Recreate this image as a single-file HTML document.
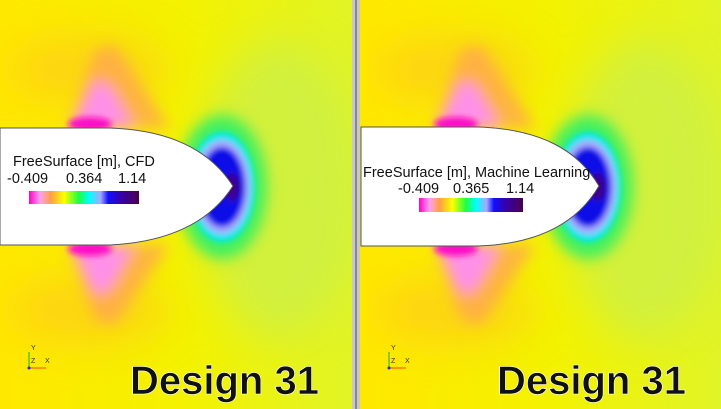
<!DOCTYPE html>
<html><head><meta charset="utf-8"><style>
html,body{margin:0;padding:0;background:#fff;}
svg{display:block;}
text{font-family:"Liberation Sans",sans-serif;}
</style></head><body>
<svg width="721" height="409" viewBox="0 0 721 409">
<defs>
<filter id="b8" x="-50%" y="-50%" width="200%" height="200%"><feGaussianBlur stdDeviation="7"/></filter>
<filter id="b4" x="-50%" y="-50%" width="200%" height="200%"><feGaussianBlur stdDeviation="3"/></filter>
<filter id="b20" x="-50%" y="-50%" width="200%" height="200%"><feGaussianBlur stdDeviation="20"/></filter>
<linearGradient id="cbar" x1="0" x2="1">
<stop offset="0" stop-color="#ff00c8"/><stop offset="0.1" stop-color="#ffa0f0"/>
<stop offset="0.2" stop-color="#ffa040"/><stop offset="0.32" stop-color="#ffff00"/>
<stop offset="0.45" stop-color="#20ff40"/><stop offset="0.55" stop-color="#00ffff"/>
<stop offset="0.65" stop-color="#a8a8ff"/><stop offset="0.72" stop-color="#1010ff"/>
<stop offset="0.85" stop-color="#3a00a0"/><stop offset="1" stop-color="#4a0050"/>
</linearGradient>
<linearGradient id="bg" x1="0" x2="1">
<stop offset="0" stop-color="#ffe800"/><stop offset="0.5" stop-color="#f4f200"/><stop offset="1" stop-color="#e0f428"/>
</linearGradient>
<symbol id="field" viewBox="0 0 360 409" width="360" height="409">
<rect x="0" y="0" width="360" height="409" fill="url(#bg)"/>
<g filter="url(#b20)">
<ellipse cx="280" cy="190" rx="80" ry="150" fill="#c8f050" opacity="0.7"/>
<ellipse cx="90" cy="70" rx="80" ry="35" fill="#ffc020" opacity="0.5"/>
<ellipse cx="90" cy="310" rx="80" ry="35" fill="#ffc020" opacity="0.5"/>
</g>
<g filter="url(#b8)">
<path d="M70,128 L95,50 L115,45 L170,128 Z" fill="#ffa850" opacity="0.8"/>
<path d="M70,245 L95,320 L115,325 L170,245 Z" fill="#ffa850" opacity="0.8"/>
<path d="M70,128 L95,80 L110,85 L135,128 Z" fill="#ff90e8"/>
<path d="M70,245 L95,295 L110,290 L135,245 Z" fill="#ff90e8"/>
<ellipse cx="222" cy="187" rx="45" ry="72" fill="#40f060"/>
</g>
<g filter="url(#b4)">
<ellipse cx="90" cy="124" rx="22" ry="7" fill="#ff10c8"/>
<ellipse cx="90" cy="249" rx="22" ry="7" fill="#ff10c8"/>
<ellipse cx="222" cy="187" rx="33" ry="55" fill="#00e8f0"/>
<ellipse cx="222" cy="187" rx="28" ry="47" fill="#a8a8ff"/>
<ellipse cx="222" cy="187" rx="23" ry="40" fill="#1010e8"/>
<ellipse cx="232" cy="187" rx="8" ry="14" fill="#3a0090"/>
</g>
</symbol>
</defs>

<g>
<use href="#field" x="0" y="0"/>
<path d="M0,128 L110,128 C170,130 210,150 233,186 C210,222 170,242 110,245 L0,245 Z" fill="#fff" stroke="#555" stroke-width="1"/>
<text x="13" y="166" font-size="14.5" fill="#111">FreeSurface [m], CFD</text>
<text x="7" y="183" font-size="14.5" fill="#111">-0.409</text>
<text x="66" y="183" font-size="14.5" fill="#111">0.364</text>
<text x="118" y="183" font-size="14.5" fill="#111">1.14</text>
<rect x="29" y="191" width="110" height="13" fill="url(#cbar)"/>
<g font-size="7">
<line x1="29" y1="368" x2="29" y2="352" stroke="#2a2"/><line x1="29" y1="368" x2="46" y2="368" stroke="#f40"/>
<circle cx="29" cy="368" r="1.5" fill="#22f"/>
<text x="31" y="350" fill="#333">Y</text><text x="31" y="363" fill="#333">Z</text><text x="45" y="363" fill="#333">X</text>
</g>
<text x="130" y="394" font-size="40" font-weight="bold" fill="#111" stroke="#fff" stroke-width="0.6">Design 31</text>
</g>

<rect x="352" y="0" width="8" height="409" fill="#c8c8c8"/>
<rect x="355" y="0" width="2" height="409" fill="#888"/>

<g>
<use href="#field" x="361" y="0" transform="translate(5,0)"/>
<rect x="360" y="0" width="6" height="409" fill="#ffe800"/>
<path d="M361,127 L478,127 C540,129 578,150 599,186 C578,222 540,244 478,246 L361,246 Z" fill="#fff" stroke="#555" stroke-width="1"/>
<text x="363" y="177" font-size="14.5" fill="#111">FreeSurface [m], Machine Learning</text>
<text x="398" y="193" font-size="14.5" fill="#111">-0.409</text>
<text x="453" y="193" font-size="14.5" fill="#111">0.365</text>
<text x="506" y="193" font-size="14.5" fill="#111">1.14</text>
<rect x="419" y="198" width="104" height="14" fill="url(#cbar)"/>
<g font-size="7">
<line x1="389" y1="368" x2="389" y2="352" stroke="#2a2"/><line x1="389" y1="368" x2="406" y2="368" stroke="#f40"/>
<circle cx="389" cy="368" r="1.5" fill="#22f"/>
<text x="391" y="350" fill="#333">Y</text><text x="391" y="363" fill="#333">Z</text><text x="405" y="363" fill="#333">X</text>
</g>
<text x="497" y="394" font-size="40" font-weight="bold" fill="#111" stroke="#fff" stroke-width="0.6">Design 31</text>
</g>
</svg>
</body></html>
